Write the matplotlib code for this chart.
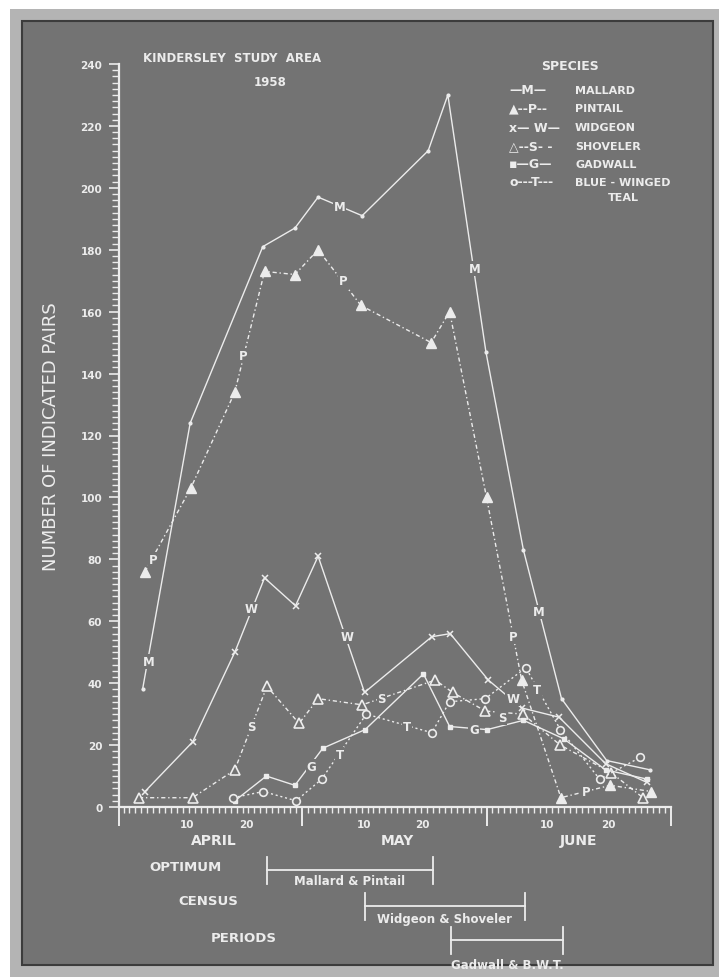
import matplotlib.pyplot as plt
from matplotlib.patches import Rectangle
from matplotlib.lines import Line2D
from matplotlib.transforms import blended_transform_factory

# days counted from March 31 (April 1 = 1, May 1 = 31, June 1 = 62)
mallard_days = [3.2, 11.2, 23.4, 28.8, 32.7, 40.1, 51.2, 54.5, 60.9, 67.2, 73.6, 81.2, 88.5]
mallard = [38, 124, 181, 187, 197, 191, 212, 230, 147, 83, 35, 15, 12]

pintail_days = [3.6, 11.3, 18.7, 23.7, 28.8, 32.7, 39.9, 51.7, 54.8, 61.0, 66.9, 73.5, 81.8, 88.7]
pintail = [76, 103, 134, 173, 172, 180, 162, 150, 160, 100, 41, 3, 7, 5]

widgeon_days = [3.6, 11.6, 18.7, 23.7, 28.9, 32.7, 40.5, 51.8, 54.9, 61.3, 66.9, 73.2, 81.0, 87.9]
widgeon = [5, 21, 50, 74, 65, 81, 37, 55, 56, 41, 32, 29, 14, 8]

shoveler_days = [2.6, 11.6, 18.7, 24.1, 29.5, 32.7, 40.1, 52.4, 55.3, 60.8, 67.1, 73.4, 82.0, 87.3]
shoveler = [3, 3, 12, 39, 27, 35, 33, 41, 37, 31, 30, 20, 11, 3]

gadwall_days = [18.7, 24.0, 28.8, 33.5, 40.6, 50.4, 54.8, 61.1, 67.2, 74.0, 81.0, 88.0]
gadwall = [2, 10, 7, 19, 25, 43, 26, 25, 28, 22, 12, 9]

teal_days = [18.4, 23.5, 29.0, 33.3, 40.8, 51.8, 54.8, 60.8, 67.6, 73.4, 80.0, 86.8]
teal = [3, 5, 2, 9, 30, 24, 34, 35, 45, 25, 9, 16]

# inline letters along the curves
m_lab = [(4.2, 47), (36.3, 194), (59.0, 174), (69.7, 63)]
p_lab = [(5.0, 80), (20.1, 146), (36.9, 170), (65.5, 55), (77.8, 5)]
w_lab = [(21.4, 64), (37.5, 55), (65.4, 35)]
s_lab = [(21.5, 26), (43.4, 35), (63.6, 29)]
g_lab = [(31.6, 13), (58.9, 25)]
t_lab = [(36.3, 17), (47.6, 26), (69.5, 38)]

month_names = ["APRIL", "MAY", "JUNE"]
month_mid = [15.2, 46, 76.4]
month_bounds = [30, 61]
day_ticks = [10.6, 20.7, 40.4, 50.3, 71.2, 81.4]
day_labels = ["10", "20", "10", "20", "10", "20"]

periods = ["Mallard & Pintail", "Widgeon & Shoveler", "Gadwall & B.W.T."]
period_start = [24.1, 40.6, 55.1]
period_end = [52.0, 67.4, 73.9]

species = ["MALLARD", "PINTAIL", "WIDGEON", "SHOVELER", "GADWALL", "BLUE - WINGED"]
species_keys = ["\u2014M\u2014", "\u25b2--P--", "x\u2014 W\u2014", "\u25b3--S- -", "\u25aa\u2014G\u2014", "o---T---"]

W, H = 719, 978
BG = "#737373"
FG = "#ececec"


def fx(x):
    return x / W


def fy(y):
    return 1 - y / H


plt.rcParams["font.weight"] = "bold"

fig = plt.figure(figsize=(W / 100, H / 100), dpi=100)
fig.patch.set_facecolor("white")
fig.patches.append(Rectangle((fx(10), 0), 1, fy(10), transform=fig.transFigure,
                             facecolor="#b4b4b4", edgecolor="none", zorder=-3))
fig.patches.append(Rectangle((fx(22), fy(966)), fx(713 - 22), (966 - 22) / H,
                             transform=fig.transFigure, facecolor=BG,
                             edgecolor="#3c3c3c", lw=1.5, zorder=-2))

ax = fig.add_axes([fx(119), fy(808), fx(671 - 119), (808 - 65) / H])
ax.set_facecolor("none")
ax.set_xlim(-0.76, 92)
ax.set_ylim(0, 240)
for s in ["top", "right"]:
    ax.spines[s].set_visible(False)
for s in ["left", "bottom"]:
    ax.spines[s].set_color(FG)
    ax.spines[s].set_linewidth(1.6)

ax.set_yticks(range(0, 241, 20))
ax.set_yticks(range(0, 241, 2), minor=True)
ax.set_xticks([-0.76] + month_bounds + [92])
ax.set_xticklabels([])
ax.set_xticks(range(0, 92), minor=True)
ax.tick_params(axis="y", which="major", length=7, width=1.2, color=FG,
               labelcolor=FG, labelsize=7.5, pad=5)
ax.tick_params(axis="y", which="minor", length=5, width=1, color=FG)
ax.tick_params(axis="x", which="major", length=14, width=1.4, color=FG)
ax.tick_params(axis="x", which="minor", length=4, width=1, color=FG)

kw = dict(color=FG, lw=1.0, clip_on=False, zorder=3)
ax.plot(mallard_days, mallard, ls="-", marker="o", ms=2, **kw)
ax.plot(pintail_days, pintail, ls=(0, (3, 2, 1, 2)), marker="^", ms=6.5,
        mfc=FG, mec=FG, **kw)
ax.plot(widgeon_days, widgeon, ls="-", marker="x", ms=5, mew=1.1, **kw)
ax.plot(shoveler_days, shoveler, ls=(0, (3, 2, 1, 2)), marker="^", ms=6.5,
        mfc=BG, mec=FG, mew=1.2, **kw)
ax.plot(gadwall_days, gadwall, ls="-", marker="s", ms=3, mfc=FG, mec=FG, **kw)
ax.plot(teal_days, teal, ls=(0, (1.5, 2)), marker="o", ms=5.5, mfc=BG, mec=FG,
        mew=1.2, **kw)

for letter, labs in zip("MPWSGT", [m_lab, p_lab, w_lab, s_lab, g_lab, t_lab]):
    for d, v in labs:
        ax.text(d, v, letter, ha="center", va="center", fontsize=8.5, color=FG,
                zorder=5, bbox=dict(fc=BG, ec="none", pad=0.6))

for d, lab in zip(day_ticks, day_labels):
    ax.text(d, -5.5, lab, ha="center", va="center", fontsize=7.5, color=FG)
for d, name in zip(month_mid, month_names):
    ax.text(d, -10.8, name, ha="center", va="center", fontsize=10, color=FG)

ax.set_ylabel("NUMBER OF INDICATED PAIRS", color=FG, fontsize=13,
              fontweight="normal", labelpad=15)

fig.text(fx(232), fy(58), "KINDERSLEY  STUDY  AREA", ha="center", va="center",
         fontsize=8.5, color=FG)
fig.text(fx(270), fy(82), "1958", ha="center", va="center", fontsize=8.5, color=FG)

# legend block
fig.text(fx(570), fy(67), "SPECIES", ha="center", va="center", fontsize=9, color=FG)
rows = [91, 109, 128, 147, 165, 183]
for y, key, name in zip(rows, species_keys, species):
    fig.text(fx(509), fy(y), key, ha="left", va="center", fontsize=9, color=FG)
    fig.text(fx(575), fy(y), name, ha="left", va="center", fontsize=8, color=FG)
fig.text(fx(608), fy(198), "TEAL", ha="left", va="center", fontsize=8, color=FG)

# optimum census periods
for x, y, t in [(185, 868, "OPTIMUM"), (208, 902, "CENSUS"), (244, 939, "PERIODS")]:
    fig.text(fx(x), fy(y), t, ha="center", va="center", fontsize=9.5, color=FG)

tr = blended_transform_factory(ax.transData, fig.transFigure)
bar_y = [871, 907, 941]
lab_y = [882, 919, 966]
for name, d0, d1, yb, yl in zip(periods, period_start, period_end, bar_y, lab_y):
    fig.add_artist(Line2D([d0, d1], [fy(yb), fy(yb)], transform=tr, color=FG, lw=1.3))
    for d in (d0, d1):
        fig.add_artist(Line2D([d, d], [fy(yb - 13), fy(yb + 14)], transform=tr,
                              color=FG, lw=1.3))
    fig.text((d0 + d1) / 2, fy(yl), name, transform=tr, ha="center", va="center",
             fontsize=8.5, color=FG)

fig.savefig("out.png", dpi=100, facecolor=fig.get_facecolor())
